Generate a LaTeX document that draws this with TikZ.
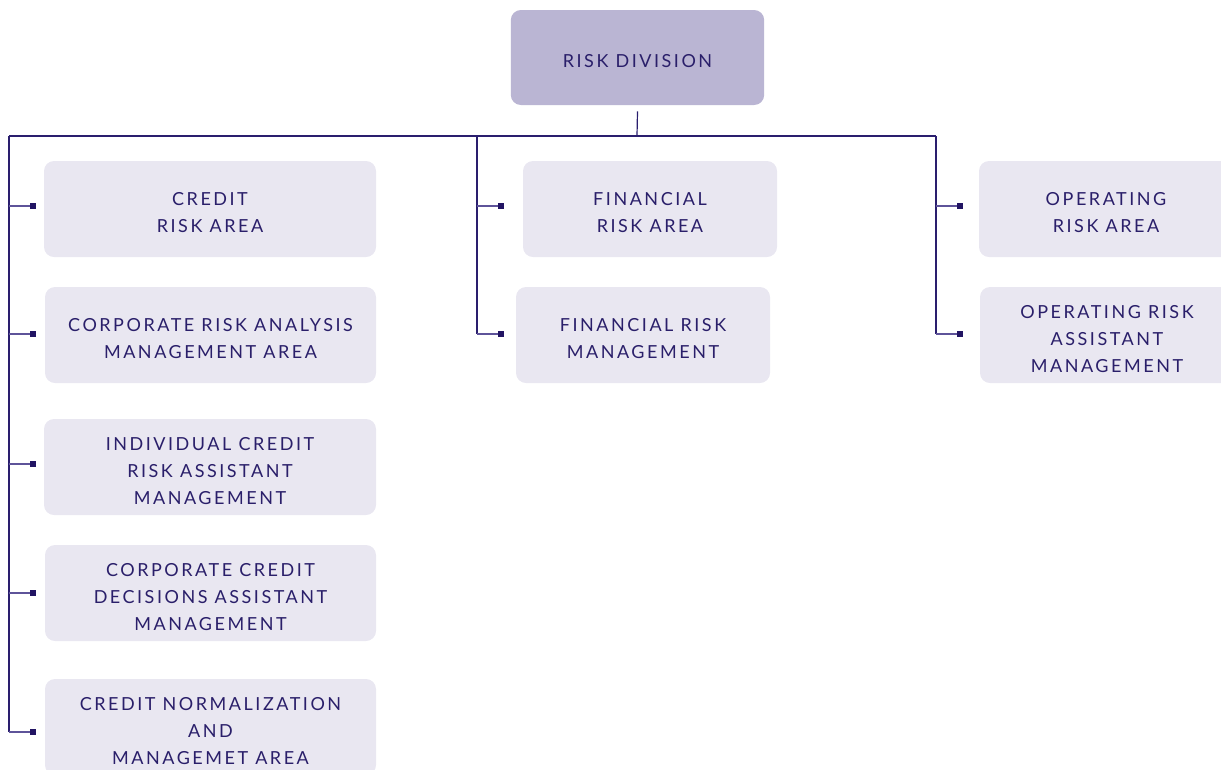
\documentclass[tikz,border=0pt]{standalone}
\usepackage{fontspec}
\setmainfont{Lato}[LetterSpace=14]
\definecolor{txt}{HTML}{2A1F6A}
\definecolor{ln}{HTML}{2A1E6E}
\definecolor{brl}{HTML}{5E5399}
\definecolor{sq}{HTML}{221463}
\definecolor{boxf}{HTML}{E9E7F1}
\definecolor{rootf}{HTML}{BAB5D3}
\begin{document}
\begin{tikzpicture}[x=0.75pt,y=-0.75pt,
  lbl/.style={text=txt,align=center,font=\fontsize{13.5}{20.25}\selectfont,inner sep=0pt,yshift=-3pt},
  box/.style={rectangle,rounded corners=7.5pt,fill=boxf,inner sep=0pt,label={[lbl]center:#1}},
  rootbox/.style={box={#1},fill=rootf},
  line/.style={draw=ln,line width=0.9pt},
  brline/.style={draw=brl,line width=0.9pt},
  sqm/.style={rectangle,fill=sq,minimum size=4pt,inner sep=0pt}]
\useasboundingbox (0,0) rectangle (1221,769);
\clip (0,0) rectangle (1221,769);
% boxes
\node[rootbox={RISK DIVISION},minimum width=190pt,minimum height=71.25pt] (root) at (637.5,57.5) {};
\node[box={CREDIT\\RISK AREA},minimum width=249pt,minimum height=72pt] (c1) at (210,209) {};
\node[box={CORPORATE RISK ANALYSIS\\MANAGEMENT AREA},minimum width=248.25pt,minimum height=72pt] (c2) at (210.5,335) {};
\node[box={INDIVIDUAL CREDIT\\RISK ASSISTANT\\MANAGEMENT},minimum width=249pt,minimum height=72pt] (c3) at (210,467) {};
\node[box={CORPORATE CREDIT\\DECISIONS ASSISTANT\\MANAGEMENT},minimum width=248.25pt,minimum height=72pt] (c4) at (210.5,593) {};
\node[box={CREDIT NORMALIZATION\\AND\\MANAGEMET AREA},minimum width=248.25pt,minimum height=72pt] (c5) at (210.5,727) {};
\node[box={FINANCIAL\\RISK AREA},minimum width=190.5pt,minimum height=72pt] (f1) at (650,209) {};
\node[box={FINANCIAL RISK\\MANAGEMENT},minimum width=190.5pt,minimum height=72pt] (f2) at (643,335) {};
\node[box={OPERATING\\RISK AREA},minimum width=190.5pt,minimum height=72pt] (o1) at (1106,209) {};
\node[box={OPERATING RISK\\ASSISTANT\\MANAGEMENT},minimum width=190.5pt,minimum height=72pt] (o2) at (1107,335) {};
% trunk coordinates
\coordinate (hub) at (637,136);
\coordinate (tl) at (9,136);
\coordinate (tm) at (477,136);
\coordinate (tr) at (936,136);
\draw[line] ([yshift=-4.5pt]root.south) -- (hub);
\draw[line] (tl) -- (tr);
% left column
\coordinate (l1) at (9,206);
\coordinate (l2) at (9,334);
\coordinate (l3) at (9,464);
\coordinate (l4) at (9,593);
\coordinate (l5) at (9,732);
\draw[line] (tl) -- (l5);
\coordinate (m1) at (477,206);
\coordinate (m2) at (477,334);
\draw[line] (tm) -- (m2);
\coordinate (r1) at (936,206);
\coordinate (r2) at (936,334);
\draw[line] (tr) -- (r2);
% branches with square ends
\foreach \a in {l1,l2,l3,l4,l5,m1,m2,r1,r2}{
  \draw[brline] (\a) -- ++(24,0) node[sqm]{};
}
\end{tikzpicture}
\end{document}
